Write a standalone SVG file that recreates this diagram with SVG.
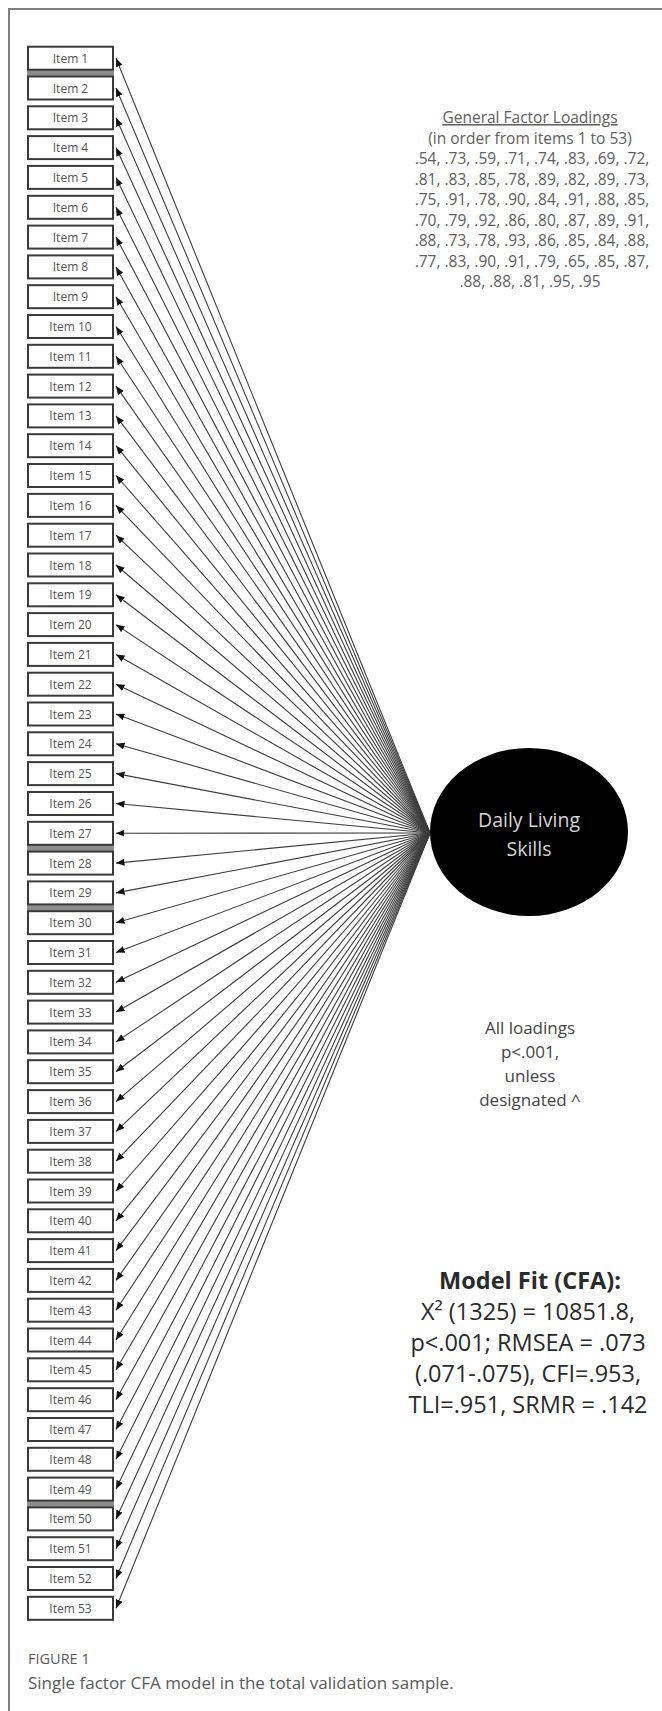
<svg xmlns="http://www.w3.org/2000/svg" width="662" height="1711" viewBox="0 0 662 1711">
<style>
.frame{stroke:#808080;stroke-width:2;fill:none}
.box{fill:#fff;stroke:#3a3a3a;stroke-width:2}
.shade{fill:#8c8c8c}
.lbl{font-family:"Open Sans","Liberation Sans",sans-serif;font-size:12px;fill:#555;text-anchor:middle}
.con{stroke:#3c3c3c;stroke-width:1.1;fill:none;marker-end:url(#ah)}
.note{font-family:"Open Sans","Liberation Sans",sans-serif;text-anchor:middle}
.load{font-size:15.5px;fill:#606060}
.all{font-size:17px;fill:#444}
.fit{font-size:23.5px;fill:#2a2a2a}
.fac{font-family:"Open Sans","Liberation Sans",sans-serif;font-size:19.5px;fill:#d4d4d4;text-anchor:middle}
.cap{font-family:"Open Sans","Liberation Sans",sans-serif;fill:#5a5a5a}
</style>
<defs>
<marker id="ah" markerUnits="userSpaceOnUse" markerWidth="9" markerHeight="8" refX="8.5" refY="3.5" orient="auto">
<path d="M0,0 L8.5,3.5 L0,7 z" fill="#111"/>
</marker>
</defs>
<rect width="662" height="1711" fill="#fff"/>
<g id="frame">
<line class="frame" x1="9" y1="9" x2="662" y2="9"/>
<line class="frame" x1="9" y1="8" x2="9" y2="1711"/>
</g>
<g id="shading">
<rect class="shade" x="27" y="70" width="87" height="6"/>
<rect class="shade" x="27" y="845" width="87" height="6"/>
<rect class="shade" x="27" y="905" width="87" height="6"/>
<rect class="shade" x="27" y="1501" width="87" height="6"/>
</g>
<g id="connectors">
<line class="con" x1="430" y1="833" x2="116" y2="58.2"/>
<line class="con" x1="430" y1="833" x2="116" y2="88.0"/>
<line class="con" x1="430" y1="833" x2="116" y2="117.8"/>
<line class="con" x1="430" y1="833" x2="116" y2="147.6"/>
<line class="con" x1="430" y1="833" x2="116" y2="177.4"/>
<line class="con" x1="430" y1="833" x2="116" y2="207.3"/>
<line class="con" x1="430" y1="833" x2="116" y2="237.1"/>
<line class="con" x1="430" y1="833" x2="116" y2="266.9"/>
<line class="con" x1="430" y1="833" x2="116" y2="296.7"/>
<line class="con" x1="430" y1="833" x2="116" y2="326.5"/>
<line class="con" x1="430" y1="833" x2="116" y2="356.3"/>
<line class="con" x1="430" y1="833" x2="116" y2="386.1"/>
<line class="con" x1="430" y1="833" x2="116" y2="415.9"/>
<line class="con" x1="430" y1="833" x2="116" y2="445.7"/>
<line class="con" x1="430" y1="833" x2="116" y2="475.5"/>
<line class="con" x1="430" y1="833" x2="116" y2="505.4"/>
<line class="con" x1="430" y1="833" x2="116" y2="535.2"/>
<line class="con" x1="430" y1="833" x2="116" y2="565.0"/>
<line class="con" x1="430" y1="833" x2="116" y2="594.8"/>
<line class="con" x1="430" y1="833" x2="116" y2="624.6"/>
<line class="con" x1="430" y1="833" x2="116" y2="654.4"/>
<line class="con" x1="430" y1="833" x2="116" y2="684.2"/>
<line class="con" x1="430" y1="833" x2="116" y2="714.0"/>
<line class="con" x1="430" y1="833" x2="116" y2="743.8"/>
<line class="con" x1="430" y1="833" x2="116" y2="773.6"/>
<line class="con" x1="430" y1="833" x2="116" y2="803.5"/>
<line class="con" x1="430" y1="833" x2="116" y2="833.3"/>
<line class="con" x1="430" y1="833" x2="116" y2="863.1"/>
<line class="con" x1="430" y1="833" x2="116" y2="892.9"/>
<line class="con" x1="430" y1="833" x2="116" y2="922.7"/>
<line class="con" x1="430" y1="833" x2="116" y2="952.5"/>
<line class="con" x1="430" y1="833" x2="116" y2="982.3"/>
<line class="con" x1="430" y1="833" x2="116" y2="1012.1"/>
<line class="con" x1="430" y1="833" x2="116" y2="1041.9"/>
<line class="con" x1="430" y1="833" x2="116" y2="1071.7"/>
<line class="con" x1="430" y1="833" x2="116" y2="1101.6"/>
<line class="con" x1="430" y1="833" x2="116" y2="1131.4"/>
<line class="con" x1="430" y1="833" x2="116" y2="1161.2"/>
<line class="con" x1="430" y1="833" x2="116" y2="1191.0"/>
<line class="con" x1="430" y1="833" x2="116" y2="1220.8"/>
<line class="con" x1="430" y1="833" x2="116" y2="1250.6"/>
<line class="con" x1="430" y1="833" x2="116" y2="1280.4"/>
<line class="con" x1="430" y1="833" x2="116" y2="1310.2"/>
<line class="con" x1="430" y1="833" x2="116" y2="1340.0"/>
<line class="con" x1="430" y1="833" x2="116" y2="1369.8"/>
<line class="con" x1="430" y1="833" x2="116" y2="1399.7"/>
<line class="con" x1="430" y1="833" x2="116" y2="1429.5"/>
<line class="con" x1="430" y1="833" x2="116" y2="1459.3"/>
<line class="con" x1="430" y1="833" x2="116" y2="1489.1"/>
<line class="con" x1="430" y1="833" x2="116" y2="1518.9"/>
<line class="con" x1="430" y1="833" x2="116" y2="1548.7"/>
<line class="con" x1="430" y1="833" x2="116" y2="1578.5"/>
<line class="con" x1="430" y1="833" x2="116" y2="1608.3"/>
</g>
<g id="item1" transform="translate(27,45.7)"><rect class="box" x="1" y="1" width="85" height="23"/><text class="lbl" x="43.5" y="17">Item 1</text></g>
<g id="item2" transform="translate(27,75.5)"><rect class="box" x="1" y="1" width="85" height="23"/><text class="lbl" x="43.5" y="17">Item 2</text></g>
<g id="item3" transform="translate(27,105.3)"><rect class="box" x="1" y="1" width="85" height="23"/><text class="lbl" x="43.5" y="17">Item 3</text></g>
<g id="item4" transform="translate(27,135.1)"><rect class="box" x="1" y="1" width="85" height="23"/><text class="lbl" x="43.5" y="17">Item 4</text></g>
<g id="item5" transform="translate(27,164.9)"><rect class="box" x="1" y="1" width="85" height="23"/><text class="lbl" x="43.5" y="17">Item 5</text></g>
<g id="item6" transform="translate(27,194.8)"><rect class="box" x="1" y="1" width="85" height="23"/><text class="lbl" x="43.5" y="17">Item 6</text></g>
<g id="item7" transform="translate(27,224.6)"><rect class="box" x="1" y="1" width="85" height="23"/><text class="lbl" x="43.5" y="17">Item 7</text></g>
<g id="item8" transform="translate(27,254.4)"><rect class="box" x="1" y="1" width="85" height="23"/><text class="lbl" x="43.5" y="17">Item 8</text></g>
<g id="item9" transform="translate(27,284.2)"><rect class="box" x="1" y="1" width="85" height="23"/><text class="lbl" x="43.5" y="17">Item 9</text></g>
<g id="item10" transform="translate(27,314.0)"><rect class="box" x="1" y="1" width="85" height="23"/><text class="lbl" x="43.5" y="17">Item 10</text></g>
<g id="item11" transform="translate(27,343.8)"><rect class="box" x="1" y="1" width="85" height="23"/><text class="lbl" x="43.5" y="17">Item 11</text></g>
<g id="item12" transform="translate(27,373.6)"><rect class="box" x="1" y="1" width="85" height="23"/><text class="lbl" x="43.5" y="17">Item 12</text></g>
<g id="item13" transform="translate(27,403.4)"><rect class="box" x="1" y="1" width="85" height="23"/><text class="lbl" x="43.5" y="17">Item 13</text></g>
<g id="item14" transform="translate(27,433.2)"><rect class="box" x="1" y="1" width="85" height="23"/><text class="lbl" x="43.5" y="17">Item 14</text></g>
<g id="item15" transform="translate(27,463.0)"><rect class="box" x="1" y="1" width="85" height="23"/><text class="lbl" x="43.5" y="17">Item 15</text></g>
<g id="item16" transform="translate(27,492.9)"><rect class="box" x="1" y="1" width="85" height="23"/><text class="lbl" x="43.5" y="17">Item 16</text></g>
<g id="item17" transform="translate(27,522.7)"><rect class="box" x="1" y="1" width="85" height="23"/><text class="lbl" x="43.5" y="17">Item 17</text></g>
<g id="item18" transform="translate(27,552.5)"><rect class="box" x="1" y="1" width="85" height="23"/><text class="lbl" x="43.5" y="17">Item 18</text></g>
<g id="item19" transform="translate(27,582.3)"><rect class="box" x="1" y="1" width="85" height="23"/><text class="lbl" x="43.5" y="17">Item 19</text></g>
<g id="item20" transform="translate(27,612.1)"><rect class="box" x="1" y="1" width="85" height="23"/><text class="lbl" x="43.5" y="17">Item 20</text></g>
<g id="item21" transform="translate(27,641.9)"><rect class="box" x="1" y="1" width="85" height="23"/><text class="lbl" x="43.5" y="17">Item 21</text></g>
<g id="item22" transform="translate(27,671.7)"><rect class="box" x="1" y="1" width="85" height="23"/><text class="lbl" x="43.5" y="17">Item 22</text></g>
<g id="item23" transform="translate(27,701.5)"><rect class="box" x="1" y="1" width="85" height="23"/><text class="lbl" x="43.5" y="17">Item 23</text></g>
<g id="item24" transform="translate(27,731.3)"><rect class="box" x="1" y="1" width="85" height="23"/><text class="lbl" x="43.5" y="17">Item 24</text></g>
<g id="item25" transform="translate(27,761.1)"><rect class="box" x="1" y="1" width="85" height="23"/><text class="lbl" x="43.5" y="17">Item 25</text></g>
<g id="item26" transform="translate(27,791.0)"><rect class="box" x="1" y="1" width="85" height="23"/><text class="lbl" x="43.5" y="17">Item 26</text></g>
<g id="item27" transform="translate(27,820.8)"><rect class="box" x="1" y="1" width="85" height="23"/><text class="lbl" x="43.5" y="17">Item 27</text></g>
<g id="item28" transform="translate(27,850.6)"><rect class="box" x="1" y="1" width="85" height="23"/><text class="lbl" x="43.5" y="17">Item 28</text></g>
<g id="item29" transform="translate(27,880.4)"><rect class="box" x="1" y="1" width="85" height="23"/><text class="lbl" x="43.5" y="17">Item 29</text></g>
<g id="item30" transform="translate(27,910.2)"><rect class="box" x="1" y="1" width="85" height="23"/><text class="lbl" x="43.5" y="17">Item 30</text></g>
<g id="item31" transform="translate(27,940.0)"><rect class="box" x="1" y="1" width="85" height="23"/><text class="lbl" x="43.5" y="17">Item 31</text></g>
<g id="item32" transform="translate(27,969.8)"><rect class="box" x="1" y="1" width="85" height="23"/><text class="lbl" x="43.5" y="17">Item 32</text></g>
<g id="item33" transform="translate(27,999.6)"><rect class="box" x="1" y="1" width="85" height="23"/><text class="lbl" x="43.5" y="17">Item 33</text></g>
<g id="item34" transform="translate(27,1029.4)"><rect class="box" x="1" y="1" width="85" height="23"/><text class="lbl" x="43.5" y="17">Item 34</text></g>
<g id="item35" transform="translate(27,1059.2)"><rect class="box" x="1" y="1" width="85" height="23"/><text class="lbl" x="43.5" y="17">Item 35</text></g>
<g id="item36" transform="translate(27,1089.1)"><rect class="box" x="1" y="1" width="85" height="23"/><text class="lbl" x="43.5" y="17">Item 36</text></g>
<g id="item37" transform="translate(27,1118.9)"><rect class="box" x="1" y="1" width="85" height="23"/><text class="lbl" x="43.5" y="17">Item 37</text></g>
<g id="item38" transform="translate(27,1148.7)"><rect class="box" x="1" y="1" width="85" height="23"/><text class="lbl" x="43.5" y="17">Item 38</text></g>
<g id="item39" transform="translate(27,1178.5)"><rect class="box" x="1" y="1" width="85" height="23"/><text class="lbl" x="43.5" y="17">Item 39</text></g>
<g id="item40" transform="translate(27,1208.3)"><rect class="box" x="1" y="1" width="85" height="23"/><text class="lbl" x="43.5" y="17">Item 40</text></g>
<g id="item41" transform="translate(27,1238.1)"><rect class="box" x="1" y="1" width="85" height="23"/><text class="lbl" x="43.5" y="17">Item 41</text></g>
<g id="item42" transform="translate(27,1267.9)"><rect class="box" x="1" y="1" width="85" height="23"/><text class="lbl" x="43.5" y="17">Item 42</text></g>
<g id="item43" transform="translate(27,1297.7)"><rect class="box" x="1" y="1" width="85" height="23"/><text class="lbl" x="43.5" y="17">Item 43</text></g>
<g id="item44" transform="translate(27,1327.5)"><rect class="box" x="1" y="1" width="85" height="23"/><text class="lbl" x="43.5" y="17">Item 44</text></g>
<g id="item45" transform="translate(27,1357.3)"><rect class="box" x="1" y="1" width="85" height="23"/><text class="lbl" x="43.5" y="17">Item 45</text></g>
<g id="item46" transform="translate(27,1387.2)"><rect class="box" x="1" y="1" width="85" height="23"/><text class="lbl" x="43.5" y="17">Item 46</text></g>
<g id="item47" transform="translate(27,1417.0)"><rect class="box" x="1" y="1" width="85" height="23"/><text class="lbl" x="43.5" y="17">Item 47</text></g>
<g id="item48" transform="translate(27,1446.8)"><rect class="box" x="1" y="1" width="85" height="23"/><text class="lbl" x="43.5" y="17">Item 48</text></g>
<g id="item49" transform="translate(27,1476.6)"><rect class="box" x="1" y="1" width="85" height="23"/><text class="lbl" x="43.5" y="17">Item 49</text></g>
<g id="item50" transform="translate(27,1506.4)"><rect class="box" x="1" y="1" width="85" height="23"/><text class="lbl" x="43.5" y="17">Item 50</text></g>
<g id="item51" transform="translate(27,1536.2)"><rect class="box" x="1" y="1" width="85" height="23"/><text class="lbl" x="43.5" y="17">Item 51</text></g>
<g id="item52" transform="translate(27,1566.0)"><rect class="box" x="1" y="1" width="85" height="23"/><text class="lbl" x="43.5" y="17">Item 52</text></g>
<g id="item53" transform="translate(27,1595.8)"><rect class="box" x="1" y="1" width="85" height="23"/><text class="lbl" x="43.5" y="17">Item 53</text></g>
<g id="factor">
<ellipse cx="529" cy="832" rx="99" ry="84" fill="#000"/>
<text class="fac" x="529" y="827">Daily Living</text>
<text class="fac" x="529" y="856">Skills</text>
</g>
<g id="loadings" class="note load">
<text x="530" y="123" text-decoration="underline">General Factor Loadings</text>
<text x="530" y="143.5">(in order from items 1 to 53)</text>
<text x="532" y="164">.54, .73, .59, .71, .74, .83, .69, .72,</text>
<text x="532" y="184.5">.81, .83, .85, .78, .89, .82, .89, .73,</text>
<text x="532" y="205">.75, .91, .78, .90, .84, .91, .88, .85,</text>
<text x="532" y="225.5">.70, .79, .92, .86, .80, .87, .89, .91,</text>
<text x="532" y="246">.88, .73, .78, .93, .86, .85, .84, .88,</text>
<text x="532" y="266.5">.77, .83, .90, .91, .79, .65, .85, .87,</text>
<text x="530" y="287">.88, .88, .81, .95, .95</text>
</g>
<g id="significance" class="note all">
<text x="530" y="1034">All loadings</text>
<text x="530" y="1058">p&lt;.001,</text>
<text x="530" y="1082">unless</text>
<text x="530" y="1106">designated ^</text>
</g>
<g id="modelfit" class="note fit">
<text x="530" y="1289" font-weight="bold">Model Fit (CFA):</text>
<text x="528" y="1320">X² (1325) = 10851.8,</text>
<text x="528" y="1351">p&lt;.001; RMSEA = .073</text>
<text x="528" y="1382">(.071-.075), CFI=.953,</text>
<text x="528" y="1413">TLI=.951, SRMR = .142</text>
</g>
<g id="caption">
<text class="cap" x="28" y="1664" font-size="14.5">FIGURE 1</text>
<text class="cap" x="28" y="1689" font-size="17">Single factor CFA model in the total validation sample.</text>
</g>
</svg>
